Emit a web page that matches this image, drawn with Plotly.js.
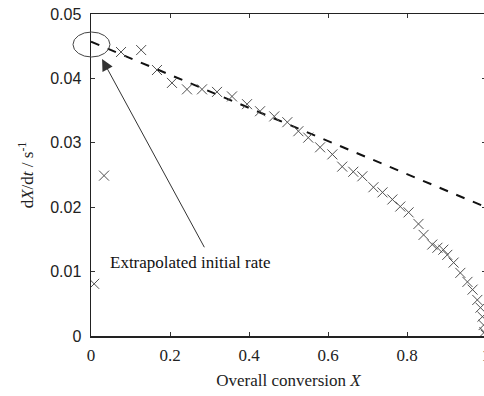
<!DOCTYPE html>
<html>
<head>
<meta charset="utf-8">
<script src="https://cdn.plot.ly/plotly-3.0.1.min.js"></script>
<style>
html,body{margin:0;padding:0;overflow:hidden;background:#fff;}
#chart{width:490px;height:396px;}
</style>
</head>
<body>
<div id="chart"></div>
<script>
// Measured data: overall conversion X vs rate dX/dt (s^-1)
const conversion = [0.008,0.033,0.076,0.127,0.167,0.205,0.243,0.281,0.319,0.357,0.395,0.428,0.464,0.497,0.525,0.550,0.580,0.611,0.636,0.664,0.687,0.715,0.738,0.763,0.783,0.804,0.829,0.842,0.864,0.877,0.892,0.902,0.918,0.935,0.953,0.966,0.978,0.986,0.991,0.994,0.996,0.999];
const rate = [0.0081,0.0249,0.0441,0.0444,0.0413,0.0393,0.0383,0.0383,0.0379,0.0372,0.0360,0.0349,0.0341,0.0332,0.0318,0.0308,0.0293,0.0282,0.0263,0.0255,0.0248,0.0231,0.0223,0.0212,0.0201,0.0192,0.0174,0.0157,0.0142,0.0137,0.0134,0.0126,0.0114,0.0098,0.0084,0.0072,0.0056,0.0044,0.0030,0.0017,0.0006,0.0002];
// Extrapolation line
const fitX = [0, 1];
const fitY = [0.0457, 0.0200];
const xTicks = [0, 0.2, 0.4, 0.6, 0.8, 1];
const xTickText = ['0', '0.2', '0.4', '0.6', '0.8', '1'];
const yTicks = [0, 0.01, 0.02, 0.03, 0.04, 0.05];
const yTickText = ['0', '0.01', '0.02', '0.03', '0.04', '0.05'];

const traces = [
  {x: fitX, y: fitY, mode: 'lines', line: {color: '#111', width: 2, dash: 'dash'}, hoverinfo: 'skip'},
  {x: conversion, y: rate, mode: 'markers',
   marker: {symbol: 'x-thin-open', size: 10, color: '#505050', line: {color: '#505050', width: 1}}}
];

const layout = {
  width: 490, height: 396,
  margin: {l: 91, r: 4, t: 14, b: 60},
  paper_bgcolor: '#fff', plot_bgcolor: '#fff',
  showlegend: false,
  xaxis: {
    range: [0, 1], tickvals: xTicks, ticktext: xTickText,
    ticks: 'inside', ticklen: 4, tickcolor: '#333', mirror: 'ticks',
    showline: true, linecolor: '#222', linewidth: 1.5, showgrid: false, zeroline: false,
    ticklabelstandoff: 3, ticklabeloverflow: 'allow',
    tickfont: {family: 'Liberation Serif, serif', size: 17, color: '#222'},
    title: {text: 'Overall conversion <i>X</i>', font: {family: 'Liberation Serif, serif', size: 17, color: '#222'}, standoff: 10}
  },
  yaxis: {
    range: [0, 0.05], tickvals: yTicks, ticktext: yTickText,
    ticks: 'inside', ticklen: 4, tickcolor: '#333', mirror: 'ticks',
    showline: true, linecolor: '#222', linewidth: 1.5, showgrid: false, zeroline: false,
    ticklabelstandoff: 5,
    tickfont: {family: 'Liberation Sans, Arial, sans-serif', size: 16, color: '#222'},
    title: {text: 'd<i>X</i>/d<i>t</i> / s<sup>-1</sup>', font: {family: 'Liberation Serif, serif', size: 17, color: '#222'}, standoff: 12}
  },
  shapes: [
    {type: 'circle', xref: 'paper', yref: 'paper', x0: -0.0456, x1: 0.048, y0: 0.8665, y1: 0.944,
     line: {color: '#444', width: 1}, layer: 'above'}
  ],
  annotations: [
    {x: 0.043, y: 0.0114, xref: 'x', yref: 'y', text: 'Extrapolated initial rate', showarrow: false,
     xanchor: 'left', yanchor: 'middle', font: {family: 'Liberation Serif, serif', size: 17, color: '#111'}},
    {x: 0.028, y: 0.0430, xref: 'x', yref: 'y', ax: 0.289, ay: 0.01355, axref: 'x', ayref: 'y',
     text: '', showarrow: true, arrowhead: 2, arrowsize: 2.3, arrowwidth: 1, arrowcolor: '#333'}
  ]
};

Plotly.newPlot('chart', traces, layout, {displayModeBar: false, staticPlot: true});
</script>
</body>
</html>
